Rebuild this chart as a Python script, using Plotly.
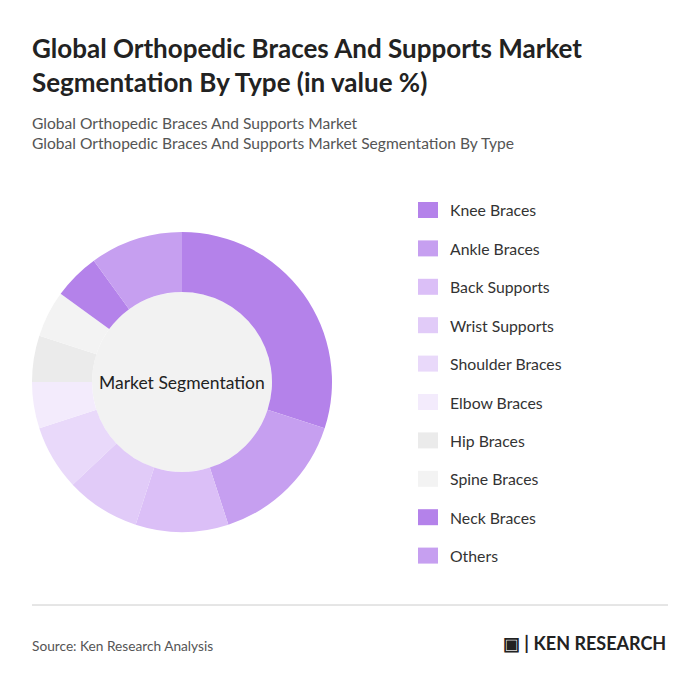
import plotly.graph_objects as go

labels = ['Knee Braces', 'Ankle Braces', 'Back Supports', 'Wrist Supports', 'Shoulder Braces',
          'Elbow Braces', 'Hip Braces', 'Spine Braces', 'Neck Braces', 'Others']
values = [30, 15, 10, 8, 7, 5, 5, 5, 5, 10]
colors = ['#b482ea', '#c69ff0', '#dbbff7', '#e1cbf8', '#e9d9fa',
          '#f3ebfc', '#ebebeb', '#f3f3f3', '#b482ea', '#c69ff0']

# page body has an 8px margin, so the figure is a bit smaller and offset
OFF = 8
W, H = 700 - OFF, 691 - OFF


def px(x):
    return (x - OFF) / W


def py(y):
    return (H - (y - OFF)) / H


CX, CY, R, RIN = 182, 382, 150, 90

fig = go.Figure()
fig.add_trace(go.Pie(
    labels=labels, values=values, hole=RIN / R, sort=False, direction='clockwise', rotation=0,
    marker=dict(colors=colors, line=dict(width=0)),
    textinfo='none', hoverinfo='label+percent', showlegend=False,
    domain=dict(x=[px(CX - R), px(CX + R)], y=[py(CY + R), py(CY - R)]),
))

# grey centre disc
fig.add_shape(type='circle', xref='paper', yref='paper',
              x0=px(CX - RIN), x1=px(CX + RIN), y0=py(CY + RIN), y1=py(CY - RIN),
              fillcolor='#f2f2f2', line=dict(width=0), layer='below')
fig.add_annotation(x=px(CX), y=py(CY), xref='paper', yref='paper', text='Market Segmentation',
                   showarrow=False, xanchor='center', yanchor='middle', font=dict(size=17.5, color='#222'))

# custom legend
for i, (lab, col) in enumerate(zip(labels, colors)):
    yc = 210 + i * 38.4
    fig.add_shape(type='rect', xref='paper', yref='paper',
                  x0=px(418), x1=px(438), y0=py(yc + 8), y1=py(yc - 8),
                  fillcolor=col, line=dict(width=0))
    fig.add_annotation(x=px(448), y=py(yc), xref='paper', yref='paper', text=lab,
                       showarrow=False, xanchor='left', yanchor='middle', font=dict(size=15.8, color='#333'))

fig.add_annotation(x=px(30), y=py(65), xref='paper', yref='paper', xanchor='left', yanchor='middle',
                   text='<b>Global Orthopedic Braces And Supports Market<br>Segmentation By Type (in value %)</b>',
                   showarrow=False, align='left', font=dict(size=26, color='#222'))
fig.add_annotation(x=px(30), y=py(133), xref='paper', yref='paper', xanchor='left', yanchor='middle',
                   text='Global Orthopedic Braces And Supports Market<br>Global Orthopedic Braces And Supports Market Segmentation By Type',
                   showarrow=False, align='left', font=dict(size=15.6, color='#555'))
fig.add_shape(type='line', xref='paper', yref='paper', x0=px(32), x1=px(668),
              y0=py(605), y1=py(605), line=dict(color='#ccc', width=1))
fig.add_annotation(x=px(30), y=py(645), xref='paper', yref='paper', xanchor='left', yanchor='middle',
                   text='Source: Ken Research Analysis', showarrow=False, font=dict(size=13.7, color='#555'))
fig.add_annotation(x=px(668), y=py(643), xref='paper', yref='paper', xanchor='right', yanchor='middle',
                   text='<b>▣ | KEN RESEARCH</b>', showarrow=False, font=dict(size=18, color='#222'))

fig.update_layout(width=W, height=H, margin=dict(l=0, r=0, t=0, b=0),
                  paper_bgcolor='white', font=dict(family='Lato'))
fig.write_html('out.html')
